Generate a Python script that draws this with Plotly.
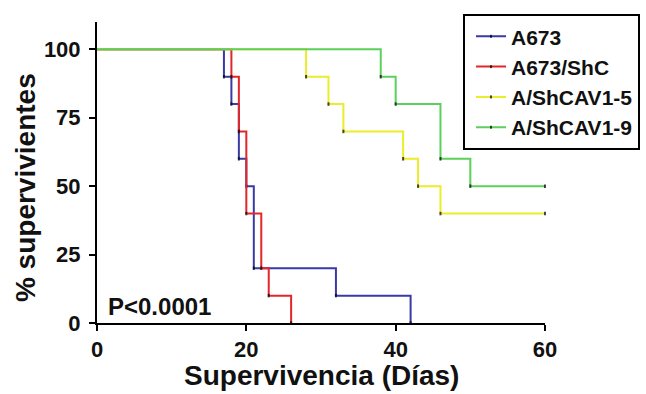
import plotly.graph_objects as go

# Kaplan-Meier step data (day of event, % survivors after event)
days_A673 = [0, 17, 18, 19, 20, 21, 32, 42]
surv_A673 = [100, 90, 80, 60, 50, 20, 10, 0]

days_ShC = [0, 18, 19, 20, 22, 23, 26]
surv_ShC = [100, 90, 70, 40, 20, 10, 0]

days_CAV5 = [0, 28, 31, 33, 41, 43, 46, 60]
surv_CAV5 = [100, 90, 80, 70, 60, 50, 40, 40]

days_CAV9 = [0, 38, 40, 46, 50, 60]
surv_CAV9 = [100, 90, 80, 60, 50, 50]

names = ["A673", "A673/ShC", "A/ShCAV1-5", "A/ShCAV1-9"]
colors = ["#3a3aa6", "#e2262a", "#ecec2a", "#5ccf5c"]
series = [(days_A673, surv_A673), (days_ShC, surv_ShC),
          (days_CAV5, surv_CAV5), (days_CAV9, surv_CAV9)]

x_ticks = [0, 20, 40, 60]
y_ticks = [0, 25, 50, 75, 100]

FONT = "Liberation Sans, Arial, sans-serif"

fig = go.Figure()
for name, col, (xs, ys) in zip(names, colors, series):
    sizes = [0] + [2.5] * (len(xs) - 1)
    fig.add_trace(go.Scatter(
        x=xs, y=ys, name=name, mode="lines+markers",
        line=dict(shape="hv", color=col, width=2),
        marker=dict(symbol="line-ns", size=sizes,
                    line=dict(color="black", width=2)),
        cliponaxis=False,
    ))

axis_common = dict(showgrid=False, zeroline=False, showline=True,
                   linecolor="black", linewidth=2, ticks="outside",
                   ticklen=6, tickwidth=2, tickcolor="black",
                   tickfont=dict(family=FONT, size=22, color="#111",
                                 weight="bold"))

fig.update_xaxes(range=[0, 60], tickvals=x_ticks, ticklabelstandoff=0,
                 automargin=False, **axis_common)
fig.update_yaxes(range=[0, 110], tickvals=y_ticks, ticklabelstandoff=4,
                 automargin=False, **axis_common)

fig.add_annotation(text="Supervivencia (Días)", xref="paper", yref="paper",
                   x=0.5, y=-0.176, xanchor="center", yanchor="middle",
                   showarrow=False,
                   font=dict(family=FONT, size=28, color="#111",
                             weight="bold"))
fig.add_annotation(text="% supervivientes", xref="paper", yref="paper",
                   x=-0.158, y=0.449, xanchor="center", yanchor="middle",
                   textangle=-90, showarrow=False,
                   font=dict(family=FONT, size=28, color="#111",
                             weight="bold"))
fig.add_annotation(text="P<0.0001", xref="paper", yref="paper",
                   x=0.02, y=0.056, xanchor="left", yanchor="middle",
                   showarrow=False,
                   font=dict(family=FONT, size=24, color="#111",
                             weight="bold"))

fig.update_layout(
    width=646, height=394,
    margin=dict(l=97, r=101, t=22, b=71, autoexpand=False),
    plot_bgcolor="white", paper_bgcolor="white",
    showlegend=True,
    legend=dict(x=0.817, y=1.026, xanchor="left", yanchor="top",
                bordercolor="black", borderwidth=2, bgcolor="white",
                font=dict(family=FONT, size=21, color="#111", weight="bold"),
                itemwidth=30, indentation=6),
)

fig.write_html("out.html")
